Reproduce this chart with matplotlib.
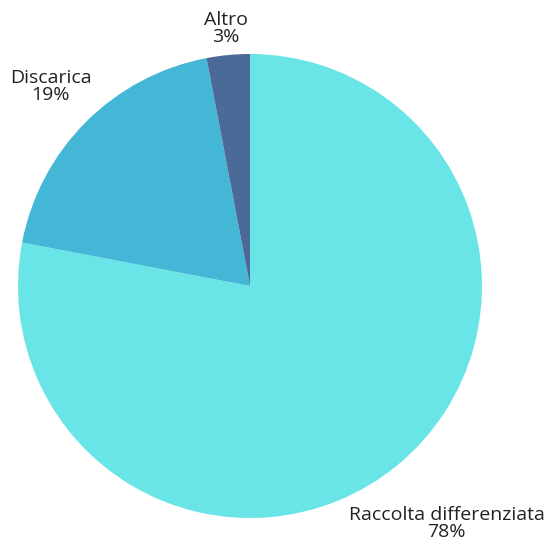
import numpy as np
import matplotlib.pyplot as plt

# Data
categories = ['Raccolta differenziata', 'Discarica', 'Altro']
values = [78, 19, 3]
colors = ['#69E5E8', '#43B7D5', '#4B6A97']

plt.rcParams['font.family'] = ['Open Sans', 'DejaVu Sans']

fig = plt.figure(figsize=(5.51, 5.42), dpi=100)
ax = fig.add_axes([18 / 551, 24 / 542, 464 / 551, 464 / 542])

wedges, _ = ax.pie(values, colors=colors, startangle=90, counterclock=False,
                   wedgeprops=dict(linewidth=0))
ax.set_xlim(-1, 1)
ax.set_ylim(-1, 1)
ax.set_aspect('equal')
ax.axis('off')

renderer = fig.canvas.get_renderer()
px_per_unit = 464 / 2
R = 1.04  # label boxes touch this circle

# Outside labels: box centred on the mid-angle ray, nearest corner at R
total = sum(values)
for w, name, v in zip(wedges, categories, values):
    ang = np.deg2rad((w.theta1 + w.theta2) / 2)
    u = np.array([np.cos(ang), np.sin(ang)])
    t = ax.text(0, 0, f'{name}\n{round(v / total * 100)}%',
                ha='center', va='center', multialignment='center',
                fontsize=14, color='#222222', linespacing=0.95,
                clip_on=False)
    bb = t.get_window_extent(renderer)
    hw, hh = bb.width / 2 / px_per_unit, bb.height / 2 / px_per_unit
    k = np.array([np.sign(u[0]) * hw if abs(u[0]) > 0.3 else 0.0,
                  np.sign(u[1]) * hh])
    uk = u @ k
    d = uk + np.sqrt(uk ** 2 - k @ k + R ** 2)
    t.set_position(d * u)

fig.savefig('out.png', dpi=100)
